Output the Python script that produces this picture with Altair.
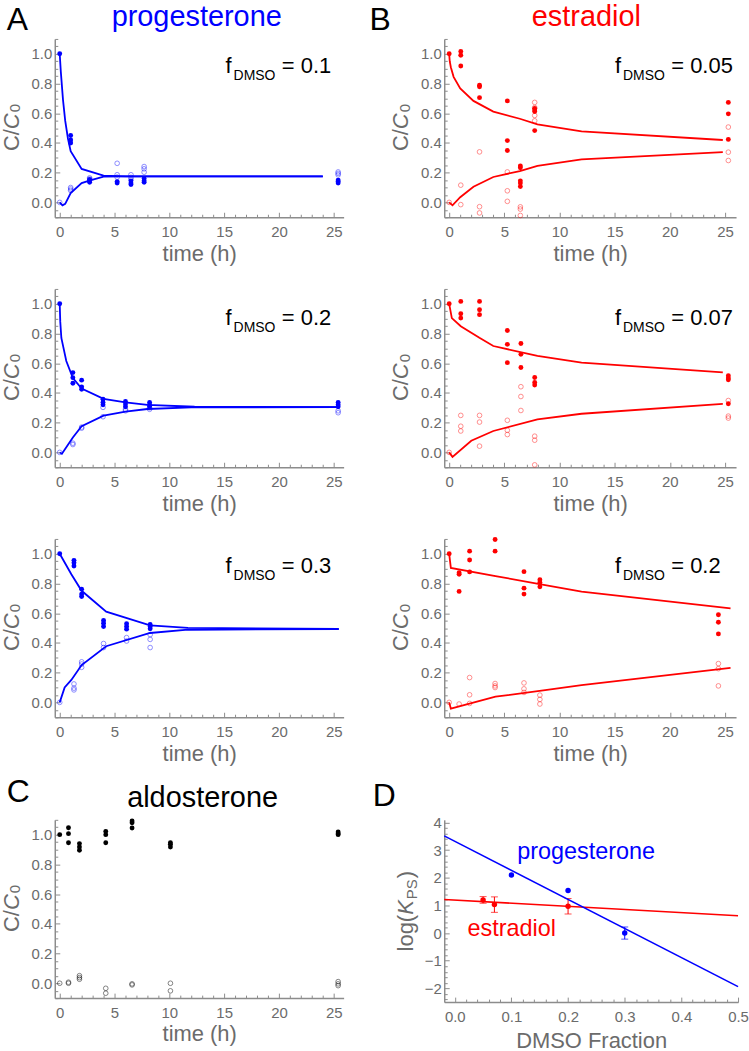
import altair as alt
import pandas as pd

FONT = "Liberation Sans"
BLUE = "#0000ff"
RED = "#ff0000"
BLACK = "#000000"
AXIS_GRAY = "#8c8c8c"
TEXT_GRAY = "#6b6b6b"
TICK_COLOR = "#8c8c8c"

# ---------------- progesterone, f_DMSO = 0.1 ----------------
PROG01_T = [0, 1.0, 2.73, 5.24, 6.5, 7.7, 25.4]
PROG01_FILLED = [[1.0], [0.45, 0.42, 0.40], [0.155, 0.145, 0.135], [0.14, 0.13],
                 [0.145, 0.13, 0.12], [0.16, 0.145, 0.135], [0.15, 0.14, 0.13]]
PROG01_OPEN = [[0.0], [0.10, 0.09, 0.08], [0.165, 0.158], [0.263, 0.186, 0.17],
               [0.186, 0.168, 0.155], [0.241, 0.226, 0.203], [0.205, 0.195, 0.185]]
PROG01_UP_T = [0, 0.1, 0.3, 0.5, 0.75, 1.0, 2.0, 4.0, 6.0, 24.0]
PROG01_UP_C = [1.0, 0.88, 0.69, 0.55, 0.43, 0.345, 0.225, 0.18, 0.175, 0.175]
PROG01_LO_T = [0, 0.25, 0.5, 1.0, 2.0, 2.7, 4.0, 6.0, 24.0]
PROG01_LO_C = [0.0, -0.02, -0.01, 0.063, 0.13, 0.147, 0.174, 0.175, 0.175]

# ---------------- progesterone, f_DMSO = 0.2 ----------------
PROG02_T = [0, 1.2, 2.0, 3.95, 6.0, 8.2, 25.4]
PROG02_FILLED = [[1.0], [0.537, 0.503, 0.465], [0.486, 0.441, 0.425], [0.358, 0.336, 0.32],
                 [0.343, 0.325, 0.307], [0.336, 0.32, 0.307], [0.336, 0.32, 0.307]]
PROG02_OPEN = [[0.0], [0.062, 0.053], [0.17, 0.163], [0.303, 0.24], [0.29, 0.28],
               [0.30, 0.29], [0.28, 0.267]]
PROG02_UP_T = [0, 0.05, 0.15, 0.6, 1.2, 2.0, 4.0, 6.0, 8.0, 12.3, 25.4]
PROG02_UP_C = [1.0, 0.88, 0.77, 0.615, 0.5, 0.43, 0.36, 0.336, 0.32, 0.307, 0.305]
PROG02_LO_T = [0, 0.2, 1.2, 2.0, 4.0, 6.0, 8.0, 12.0, 25.4]
PROG02_LO_C = [0.0, -0.01, 0.1, 0.176, 0.247, 0.274, 0.292, 0.303, 0.305]

# ---------------- progesterone, f_DMSO = 0.3 ----------------
PROG03_T = [0, 1.3, 2.0, 4.0, 6.1, 8.25]
PROG03_FILLED = [[1.0], [0.956, 0.94, 0.918], [0.762, 0.729, 0.713], [0.551, 0.533, 0.511],
                 [0.529, 0.511, 0.493], [0.524, 0.511, 0.496]]
PROG03_OPEN = [[0.0], [0.124, 0.096, 0.084], [0.273, 0.258, 0.236], [0.396, 0.369],
               [0.436, 0.413], [0.456, 0.424, 0.369]]
PROG03_UP_T = [0, 1.06, 2.0, 4.24, 8.24, 11.7, 25.45]
PROG03_UP_C = [1.0, 0.862, 0.751, 0.611, 0.518, 0.502, 0.494]
PROG03_LO_T = [0, 0.45, 1.06, 2.0, 4.24, 8.24, 11.7, 25.45]
PROG03_LO_C = [0.0, 0.1, 0.151, 0.251, 0.378, 0.467, 0.489, 0.494]

# ---------------- estradiol, f_DMSO = 0.05 ----------------
EST005_T = [0, 1.05, 2.75, 5.27, 6.45, 7.75, 25.3]
EST005_FILLED = [[1.0], [1.016, 0.99, 0.918], [0.789, 0.778, 0.705], [0.683, 0.416, 0.349],
                 [0.245, 0.233, 0.145, 0.13, 0.107], [0.633, 0.622, 0.611, 0.483],
                 [0.673, 0.596, 0.424]]
EST005_OPEN = [[0.0], [0.116, -0.015], [0.34, -0.029, -0.071], [0.205, 0.078, 0.007],
               [-0.03, -0.045, -0.088], [0.673, 0.638, 0.585, 0.549], [0.507, 0.338, 0.282]]
EST005_UP_T = [0, 0.05, 0.15, 0.4, 1.0, 2.2, 4.0, 6.4, 8.0, 12.0, 24.8]
EST005_UP_C = [1.0, 0.95, 0.91, 0.845, 0.767, 0.683, 0.611, 0.563, 0.525, 0.478, 0.42]
EST005_LO_T = [0, 0.3, 1.0, 2.2, 4.0, 6.4, 8.0, 12.0, 24.8]
EST005_LO_C = [0.0, -0.02, 0.035, 0.105, 0.171, 0.211, 0.245, 0.289, 0.338]

# ---------------- estradiol, f_DMSO = 0.07 ----------------
EST007_T = [0, 1.05, 2.75, 5.27, 6.5, 7.75, 25.3]
EST007_FILLED = [[1.0], [1.016, 0.933, 0.904], [1.016, 0.96, 0.927], [0.82, 0.727, 0.604],
                 [0.733, 0.66, 0.571], [0.504, 0.471, 0.453], [0.516, 0.5, 0.489, 0.327]]
EST007_OPEN = [[0.0], [0.249, 0.176, 0.144], [0.249, 0.204, 0.042], [0.216, 0.149, 0.12],
               [0.442, 0.376, 0.282], [0.109, 0.082, -0.084], [0.349, 0.244, 0.231]]
EST007_UP_T = [0, 0.24, 1.05, 2.74, 4.0, 8.0, 12.0, 24.8]
EST007_UP_C = [1.0, 0.904, 0.849, 0.771, 0.716, 0.649, 0.604, 0.538]
EST007_LO_T = [0, 0.3, 2.0, 4.0, 8.0, 12.0, 24.8]
EST007_LO_C = [0.0, -0.03, 0.078, 0.144, 0.222, 0.26, 0.327]

# ---------------- estradiol, f_DMSO = 0.2 ----------------
EST02_T = [0, 0.9, 1.85, 4.16, 6.78, 8.22, 24.4]
EST02_FILLED = [[1.0], [0.873, 0.862, 0.747], [1.018, 0.958, 0.878], [1.096, 1.018],
                [0.88, 0.769, 0.729], [0.825, 0.807, 0.778], [0.59, 0.539, 0.461]]
EST02_OPEN = [[0.0], [-0.011], [0.167, 0.051, -0.007], [0.127, 0.111, 0.1],
              [0.131, 0.091, 0.067], [0.049, 0.02, -0.011], [0.261, 0.227, 0.111]]
EST02_UP_T = [0, 0.15, 4.2, 8.7, 12.0, 25.5]
EST02_UP_C = [1.0, 0.905, 0.85, 0.79, 0.746, 0.633]
EST02_LO_T = [0, 0.15, 4.2, 8.7, 12.0, 25.5]
EST02_LO_C = [0.0, -0.042, 0.038, 0.082, 0.116, 0.232]

# ---------------- aldosterone ----------------
ALDO_T = [0, 0.8, 1.8, 4.2, 6.6, 10.1, 25.4]
ALDO_FILLED = [[1.0], [1.047, 1.007, 0.946], [0.94, 0.917, 0.895], [1.022, 1.0, 0.946],
               [1.092, 1.08, 1.045], [0.946, 0.935, 0.917], [1.018, 1.007, 1.0]]
ALDO_OPEN = [[0.0], [0.007, 0.0], [0.051, 0.038, 0.027], [-0.034, -0.067], [-0.004, -0.011],
             [0.0, -0.051], [0.011, -0.004, -0.016]]

# ---------------- partition coefficients vs DMSO fraction ----------------
PROG_FRAC = [0.1, 0.2, 0.3]
PROG_LOGK = [2.10, 1.54, 0.0]
PROG_ERR = [0.0, 0.0, 0.22]
EST_FRAC = [0.05, 0.07, 0.2]
EST_LOGK = [1.2, 1.03, 0.97]
EST_ERR = [0.12, 0.28, 0.28]
PROG_FIT_X = [-0.0186, 0.5]
PROG_FIT_Y = [3.52, -1.94]
EST_FIT_X = [-0.0186, 0.5]
EST_FIT_Y = [1.216, 0.628]

ONE = pd.DataFrame({"k": [0]})

# tick positions for the inward tick marks
TIME_TICKS = list(range(0, 26))
CC0_TICKS = [round(-0.1 + 0.05 * i, 2) for i in range(25)]
FRAC_TICKS = [round(0.02 * i, 2) for i in range(26)]
LOGK_TICKS = [round(-2.4 + 0.2 * i, 1) for i in range(33)]


def pts(times, groups):
    return pd.DataFrame([{"t": t, "c": c} for t, g in zip(times, groups) for c in g])


def fit_df(curves):
    rows = []
    for name, ts, cs in curves:
        rows += [{"curve": name, "t": t, "c": c} for t, c in zip(ts, cs)]
    return pd.DataFrame(rows)


def txt(s, x, y, size, color=BLACK, align="left", angle=0, style="normal"):
    return alt.Chart(ONE).mark_text(
        text=s, font=FONT, fontSize=size, fontStyle=style, color=color,
        align=align, baseline="alphabetic", angle=angle,
    ).encode(x=alt.value(x), y=alt.value(y))


def frame(L, T, W, H, R, B):
    # transparent box fixing the extent of each cell of the grid
    return alt.Chart(ONE).mark_rect(opacity=0).encode(
        x=alt.value(-L), x2=alt.value(W + R), y=alt.value(-T), y2=alt.value(H + B))


def main_x_axis(values, fmt, title, title_y):
    return alt.Axis(
        orient="bottom", values=values, format=fmt, title=title, ticks=False, tickSize=0,
        grid=False, domainColor=AXIS_GRAY, domainWidth=1.5,
        labelColor=TEXT_GRAY, labelFont=FONT, labelFontSize=15, labelPadding=7.5,
        labelFlush=False, labelOverlap=False,
        titleFont=FONT, titleFontSize=22, titleFontWeight="normal", titleColor=TEXT_GRAY,
        titleY=title_y, titleBaseline="alphabetic",
    )


def main_y_axis(values, fmt):
    return alt.Axis(
        orient="left", values=values, format=fmt, title=None, ticks=False, tickSize=0,
        grid=False, domainColor=AXIS_GRAY, domainWidth=1.5,
        labelColor=TEXT_GRAY, labelFont=FONT, labelFontSize=15, labelPadding=3,
        labelFlush=False, labelOverlap=False,
    )


def tick_axis(orient, offset, values, major_test):
    # ticks pointing into the plot: axis placed on the opposite edge, shifted across
    return alt.Axis(
        orient=orient, offset=offset, values=values, labels=False, domain=False, grid=False,
        ticks=True, tickColor=TICK_COLOR, tickWidth=1,
        tickSize={"condition": {"test": major_test, "value": 5}, "value": 3},
        title=None,
    )


def cc0_title(H):
    x = -36.2
    start = H / 2 + 23.1
    return [
        txt("C/", x, start, 22, TEXT_GRAY, angle=270),
        txt("C", x, start - 22.0, 22, TEXT_GRAY, angle=270, style="italic"),
        txt("0", x + 1.7, start - 38.9, 15, TEXT_GRAY, angle=270),
    ]


def kinetics_panel(times, filled, opened, fits, color, open_opacity, geo,
                   fdmso=None, fd_y=35, title=None, title_color=BLACK, title_xy=None,
                   letter=None, letter_xy=None):
    L, T, W, H, R, B = geo["L"], geo["T"], geo["W"], geo["H"], geo["R"], geo["B"]
    xs = alt.Scale(domain=geo["xdom"], nice=False, zero=False)
    ys = alt.Scale(domain=[-0.1, 1.1], nice=False, zero=False)

    layers = [frame(L, T, W, H, R, B)]
    layers += cc0_title(H)
    if letter:
        layers.append(txt(letter, letter_xy[0], letter_xy[1], 32))
    if title:
        layers.append(txt(title, title_xy[0], title_xy[1], 29, title_color, align="center"))
    if fdmso:
        layers += [
            txt("f", 171.5, fd_y, 22),
            txt("DMSO", 179.5, fd_y + 7.3, 14),
            txt("= " + fdmso, 228.0, fd_y, 22),
        ]
    if fits:
        layers.append(
            alt.Chart(fit_df(fits)).mark_line(color=color, strokeWidth=1.8).encode(
                x=alt.X("t:Q", scale=xs, axis=None),
                y=alt.Y("c:Q", scale=ys, axis=None),
                detail="curve:N",
            )
        )
    layers.append(
        alt.Chart(pts(times, opened)).mark_point(
            filled=False, size=22, strokeWidth=0.8, opacity=open_opacity, color=color
        ).encode(
            x=alt.X("t:Q", scale=xs,
                    axis=tick_axis("top", -H, TIME_TICKS, "abs(datum.value % 5) < 0.001")),
            y=alt.Y("c:Q", scale=ys,
                    axis=tick_axis("right", -W, CC0_TICKS,
                                   "abs(datum.value * 5 - round(datum.value * 5)) < 0.001")),
        )
    )
    layers.append(
        alt.Chart(pts(times, filled)).mark_point(
            filled=True, size=24, opacity=1, color=color
        ).encode(
            x=alt.X("t:Q", scale=xs, axis=main_x_axis([0, 5, 10, 15, 20, 25], "d", "time (h)", 43)),
            y=alt.Y("c:Q", scale=ys, axis=main_y_axis([0, 0.2, 0.4, 0.6, 0.8, 1.0], ".1f")),
        )
    )
    return alt.layer(*layers).resolve_axis(x="independent", y="independent").properties(
        width=W, height=H)


def logk_panel(geo, letter_xy):
    L, T, W, H, R, B = geo["L"], geo["T"], geo["W"], geo["H"], geo["R"], geo["B"]
    xs = alt.Scale(domain=[-0.0186, 0.5], nice=False, zero=False)
    ys = alt.Scale(domain=[-2.5, 4.1], nice=False, zero=False)

    def xenc(field, axis=None):
        return alt.X(field, scale=xs, axis=axis)

    def yenc(field, axis=None):
        return alt.Y(field, scale=ys, axis=axis)

    def series(fr, lk, er, fx, fy, color, xa, ya):
        df = pd.DataFrame({"f": fr, "k": lk, "e": er})
        err = df[df["e"] > 0].copy()
        err["lo"] = err["k"] - err["e"]
        err["hi"] = err["k"] + err["e"]
        line = alt.Chart(pd.DataFrame({"f": fx, "k": fy})).mark_line(
            color=color, strokeWidth=1.6).encode(x=xenc("f:Q"), y=yenc("k:Q"))
        bars = alt.Chart(err).mark_rule(color=color, strokeWidth=1).encode(
            x=xenc("f:Q"), y=yenc("lo:Q"), y2="hi:Q")
        cap_lo = alt.Chart(err).mark_tick(color=color, orient="horizontal", size=7, thickness=1).encode(
            x=xenc("f:Q"), y=yenc("lo:Q"))
        cap_hi = alt.Chart(err).mark_tick(color=color, orient="horizontal", size=7, thickness=1).encode(
            x=xenc("f:Q"), y=yenc("hi:Q"))
        dots = alt.Chart(df).mark_point(filled=True, size=30, opacity=1, color=color).encode(
            x=xenc("f:Q", xa), y=yenc("k:Q", ya))
        return [line, bars, cap_lo, cap_hi, dots]

    x_main = main_x_axis([0, 0.1, 0.2, 0.3, 0.4, 0.5], ".1f", "DMSO Fraction", 45.5)
    y_main = main_y_axis([-2, -1, 0, 1, 2, 3, 4], "d")
    x_tk = tick_axis("top", -H, FRAC_TICKS, "abs(datum.value * 10 - round(datum.value * 10)) < 0.001")
    y_tk = tick_axis("right", -W, LOGK_TICKS, "abs(datum.value - round(datum.value)) < 0.001")

    x0 = -31.7
    start = 92.8 + 39.3
    layers = [
        frame(L, T, W, H, R, B),
        txt("log(", x0, start, 22, TEXT_GRAY, angle=270),
        txt("K", x0, start - 36.7, 22, TEXT_GRAY, angle=270, style="italic"),
        txt("PS", x0 + 4, start - 52.4, 15, TEXT_GRAY, angle=270),
        txt(")", x0, start - 73.4, 22, TEXT_GRAY, angle=270),
        txt("D", letter_xy[0], letter_xy[1], 32),
        txt("progesterone", 73.3, 39.4, 23.5, BLUE),
        txt("estradiol", 23.3, 117.1, 23.5, RED),
    ]
    layers += series(EST_FRAC, EST_LOGK, EST_ERR, EST_FIT_X, EST_FIT_Y, RED, x_tk, y_tk)
    layers += series(PROG_FRAC, PROG_LOGK, PROG_ERR, PROG_FIT_X, PROG_FIT_Y, BLUE, x_main, y_main)
    return alt.layer(*layers).resolve_axis(x="independent", y="independent").properties(
        width=W, height=H)


# ---------------- grid geometry ----------------
L0, W0, R0 = 53.8, 290, 15
COL1_X = L0 + W0 + R0
LEFT = dict(L=L0, W=W0, R=R0, xdom=[-0.45, 25.9])
RIGHT = dict(L=444 - COL1_X, W=293, R=10, xdom=[-0.45, 26.0])
ROWS = [dict(T=36.8, B=56.6), dict(T=15, B=56.4), dict(T=15, B=57.6), dict(T=45, B=50)]
H = 179


def geo(col, row):
    g = dict(col)
    g.update(ROWS[row])
    g["H"] = H
    return g


A1 = kinetics_panel(
    PROG01_T, PROG01_FILLED, PROG01_OPEN,
    [("up", PROG01_UP_T, PROG01_UP_C), ("lo", PROG01_LO_T, PROG01_LO_C)],
    BLUE, 0.55, geo(LEFT, 0), fdmso="0.1", fd_y=34.2,
    title="progesterone", title_color=BLUE, title_xy=(142.5, -13.3),
    letter="A", letter_xy=(-48.3, -8.5))
B1 = kinetics_panel(
    EST005_T, EST005_FILLED, EST005_OPEN,
    [("up", EST005_UP_T, EST005_UP_C), ("lo", EST005_LO_T, EST005_LO_C)],
    RED, 0.55, geo(RIGHT, 0), fdmso="0.05", fd_y=34.3,
    title="estradiol", title_color=RED, title_xy=(142.7, -13.5),
    letter="B", letter_xy=(-75, -8.5))
A2 = kinetics_panel(
    PROG02_T, PROG02_FILLED, PROG02_OPEN,
    [("up", PROG02_UP_T, PROG02_UP_C), ("lo", PROG02_LO_T, PROG02_LO_C)],
    BLUE, 0.55, geo(LEFT, 1), fdmso="0.2", fd_y=35.9)
B2 = kinetics_panel(
    EST007_T, EST007_FILLED, EST007_OPEN,
    [("up", EST007_UP_T, EST007_UP_C), ("lo", EST007_LO_T, EST007_LO_C)],
    RED, 0.55, geo(RIGHT, 1), fdmso="0.07", fd_y=35.9)
A3 = kinetics_panel(
    PROG03_T, PROG03_FILLED, PROG03_OPEN,
    [("up", PROG03_UP_T, PROG03_UP_C), ("lo", PROG03_LO_T, PROG03_LO_C)],
    BLUE, 0.55, geo(LEFT, 2), fdmso="0.3", fd_y=33.9)
B3 = kinetics_panel(
    EST02_T, EST02_FILLED, EST02_OPEN,
    [("up", EST02_UP_T, EST02_UP_C), ("lo", EST02_LO_T, EST02_LO_C)],
    RED, 0.55, geo(RIGHT, 2), fdmso="0.2", fd_y=33.9)
C = kinetics_panel(
    ALDO_T, ALDO_FILLED, ALDO_OPEN, None,
    BLACK, 0.6, geo(LEFT, 3),
    title="aldosterone", title_color=BLACK, title_xy=(148.4, -12.7),
    letter="C", letter_xy=(-48.3, -17.7))
D = logk_panel(
    dict(L=441.7 - COL1_X, T=41.2, W=295, H=183, R=10, B=49.8),
    letter_xy=(-71.7, -13.9))

chart = alt.concat(
    A1, B1, A2, B2, A3, B3, C, D,
    columns=2, spacing=0, align="each", bounds="full",
).properties(padding=0).configure_view(strokeWidth=0)

chart.save("out.html", embed_options={"renderer": "svg", "actions": False})
